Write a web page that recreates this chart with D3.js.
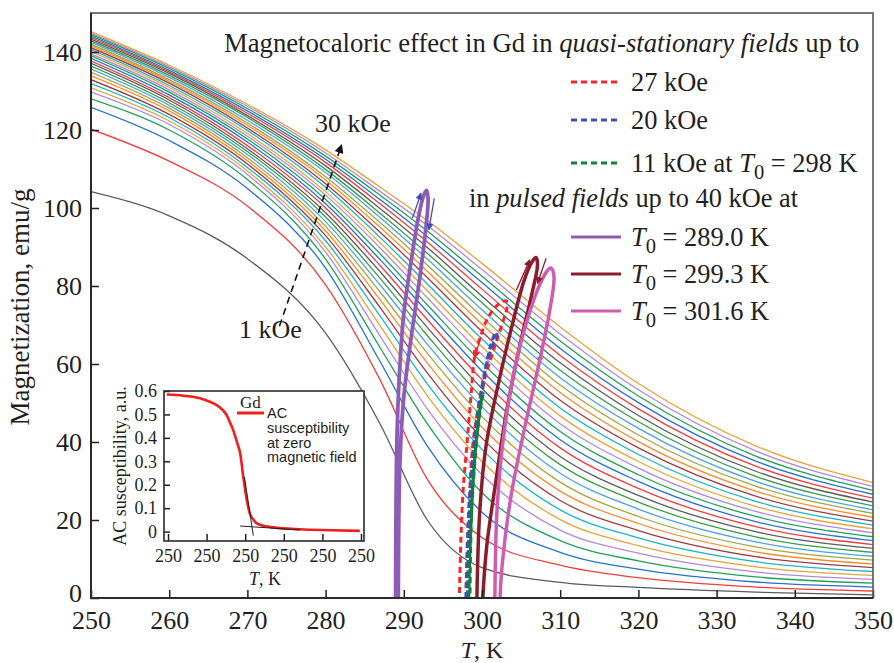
<!DOCTYPE html>
<html>
<head>
<meta charset="utf-8">
<title>Magnetocaloric effect in Gd</title>
<script src="https://cdn.jsdelivr.net/npm/d3@7/dist/d3.min.js"></script>
<style>
  body { margin: 0; background: #fff; }
  svg { display: block; }
  text { font-family: 'Liberation Serif', 'Times New Roman', serif; fill: #231f20; }
</style>
</head>
<body>
<div id="chart"></div>
<script>
/* global d3 */

const TEMPS = [250, 260, 270, 280, 287, 293, 300, 310, 320, 335, 350]
// Field of every M(T) curve, kOe (1 ... 30)
const FIELDS = [1, 2, 3, 4, 5, 6, 7, 8, 9, 10, 11, 12, 13, 14, 15, 16, 17, 18, 19, 20, 21, 22, 23, 24, 25, 26, 27, 28, 29, 30]

// Magnetization, emu/g, one value per field at each temperature
const M250 = [104.2, 120.2, 125.8, 128.0, 129.7, 130.8, 131.9, 132.9, 133.9, 134.8, 135.6, 136.4, 137.1, 137.7, 138.4, 139.0, 139.5, 140.1, 140.6, 141.1, 141.6, 142.0, 142.5, 142.9, 143.3, 143.7, 144.1, 144.5, 144.8, 145.2]
const M260 = [98.0, 112.0, 117.3, 120.0, 121.4, 122.3, 123.2, 124.0, 124.9, 125.6, 126.3, 127.0, 127.7, 128.3, 129.0, 129.7, 130.3, 130.9, 131.4, 132.0, 132.5, 132.9, 133.5, 134.0, 134.5, 134.9, 135.3, 135.8, 136.2, 136.6]
const M270 = [87.0, 100.5, 105.0, 107.3, 108.6, 109.5, 110.4, 111.3, 112.1, 112.9, 113.7, 114.5, 115.2, 116.0, 116.9, 117.7, 118.4, 119.1, 119.9, 120.5, 121.2, 121.8, 122.5, 123.2, 123.7, 124.3, 124.9, 125.5, 126.1, 126.6]
const M280 = [67.9, 80.3, 84.6, 86.9, 88.7, 90.0, 91.6, 92.9, 94.1, 95.3, 96.5, 97.7, 98.8, 100.0, 101.1, 102.2, 103.3, 104.2, 105.3, 106.2, 107.2, 108.0, 109.1, 109.9, 110.8, 111.7, 112.5, 113.3, 114.1, 114.9]
const M287 = [44.5, 55.8, 60.5, 64.1, 67.1, 69.7, 72.2, 74.4, 76.4, 78.4, 80.2, 81.9, 83.6, 85.2, 86.7, 88.2, 89.7, 91.0, 92.4, 93.7, 95.0, 96.2, 97.5, 98.6, 99.8, 101.0, 102.1, 103.2, 104.2, 105.3]
const M293 = [20.0, 30.5, 39.0, 44.7, 48.5, 51.9, 54.9, 57.7, 60.3, 62.8, 65.1, 67.3, 69.4, 71.4, 73.4, 75.2, 77.0, 78.8, 80.5, 82.2, 83.8, 85.4, 86.9, 88.4, 89.9, 91.3, 92.7, 94.1, 95.5, 96.8]
const M300 = [7.8, 15.5, 22.0, 27.0, 31.6, 35.0, 38.1, 41.0, 43.8, 46.5, 49.0, 51.4, 53.7, 56.0, 58.2, 60.3, 62.4, 64.4, 66.4, 68.3, 70.2, 72.1, 73.9, 75.7, 77.4, 79.2, 80.9, 82.5, 84.2, 85.8]
const M310 = [4.0, 8.4, 11.7, 14.7, 17.4, 20.1, 22.6, 25.0, 27.4, 29.7, 32.0, 34.2, 36.3, 38.5, 40.6, 42.7, 44.7, 46.7, 48.7, 50.7, 52.7, 54.6, 56.5, 58.4, 60.3, 62.2, 64.0, 65.9, 67.7, 69.5]
const M320 = [2.7, 5.2, 7.4, 9.5, 11.5, 13.4, 15.4, 17.3, 19.1, 20.9, 22.8, 24.6, 26.3, 28.1, 29.9, 31.6, 33.3, 35.0, 36.8, 38.5, 40.1, 41.8, 43.5, 45.2, 46.8, 48.5, 50.1, 51.8, 53.4, 55.0]
const M335 = [1.5, 2.8, 4.1, 5.4, 6.7, 8.0, 9.3, 10.6, 11.8, 13.1, 14.4, 15.7, 17.0, 18.3, 19.6, 20.9, 22.2, 23.5, 24.8, 26.1, 27.4, 28.7, 29.9, 31.2, 32.5, 33.8, 35.1, 36.4, 37.7, 39.0]
const M350 = [0.8, 1.8, 2.8, 3.8, 4.8, 5.8, 6.8, 7.8, 8.7, 9.7, 10.7, 11.7, 12.7, 13.7, 14.7, 15.7, 16.7, 17.7, 18.7, 19.7, 20.7, 21.7, 22.6, 23.6, 24.6, 25.6, 26.6, 27.6, 28.6, 29.6]

// Adiabatic trajectories M(T) : quasi-stationary fields (dashed)
const Q27_T = [298.2, 298.2, 298.4, 298.8, 299.4, 300.3, 301.6, 302.6, 303.2, 303.1, 302.2, 300.8, 299.8, 299.1, 298.6, 298.1, 297.6, 297.3, 297.1]
const Q27_M = [0, 13, 26, 38.8, 47.4, 55.9, 64.4, 70.4, 74.5, 76.2, 75.5, 72, 67, 62.3, 52, 40, 28, 15, 0]
const Q20_T = [297.95, 298.1, 298.4, 299.0, 299.9, 300.5, 301.2, 301.8, 301.9, 301.5, 300.6, 299.8, 299.1, 298.6, 298.3, 298.15]
const Q20_M = [0, 12, 25, 38, 50.8, 59.3, 65.3, 68.2, 67.2, 65.5, 60, 52, 42, 30, 15, 0]
const Q11_T = [298.3, 298.5, 298.9, 299.4, 299.9, 300.15, 299.9, 299.3, 298.8, 298.55, 298.45]
const Q11_M = [0, 15, 30, 42, 50, 52.5, 50.5, 41, 28, 14, 0]
// ... and pulsed fields up to 40 kOe (solid)
const P289_T = [288.95, 289.1, 289.4, 290.0, 290.9, 291.8, 292.5, 292.9, 293.1, 292.8, 292.0, 290.9, 290.0, 289.5, 289.3]
const P289_M = [0, 38.8, 55.9, 73.0, 85.8, 96.9, 103.0, 104.5, 102.5, 94.4, 81.5, 66.2, 51.6, 34.5, 0]
const P299_T = [299.35, 299.7, 300.5, 302.2, 303.7, 305.4, 306.4, 306.9, 307.1, 306.3, 304.8, 303.1, 301.8, 300.6, 300.1]
const P299_M = [0, 21.7, 38.8, 55.9, 68.7, 81.5, 86.2, 87.3, 85.5, 77.3, 64.4, 47.4, 30.3, 13.2, 0]
const P302_T = [301.65, 301.9, 302.6, 303.9, 305.4, 307.1, 308.2, 308.8, 309.2, 308.6, 307.3, 305.4, 303.7, 302.6, 302.3]
const P302_M = [0, 21.7, 38.8, 55.9, 68.7, 79.0, 83.5, 84.6, 82.5, 73.0, 60.2, 43.1, 26.0, 8.9, 0]

// Inset: AC susceptibility at zero field (x in tick units, all ticks read "250")
const INSET_X = [-0.03, 0.4, 0.83, 1.1, 1.26, 1.4, 1.52, 1.62, 1.69, 1.79, 1.87, 1.95, 2.04, 2.12, 2.22, 2.30, 2.5, 2.73, 3.42, 4.2, 4.97]
const INSET_CHI = [0.585, 0.58, 0.569, 0.553, 0.54, 0.522, 0.497, 0.46, 0.433, 0.38, 0.334, 0.234, 0.135, 0.078, 0.05, 0.035, 0.024, 0.018, 0.01, 0.006, 0.003]
const STEEP_FIT_X = [1.98, 2.21]
const STEEP_FIT_Y = [0.234, -0.017]
const FLAT_FIT_X = [1.87, 3.42]
const FLAT_FIT_Y = [0.024, 0.007]
const INSET_TICKS = [0, 1, 2, 3, 4, 5]
const INSET_TICK_LABELS = ['250', '250', '250', '250', '250', '250']
const INSET_Y_TICKS = [0, 0.1, 0.2, 0.3, 0.4, 0.5, 0.6]

const X_TICKS = [250, 260, 270, 280, 290, 300, 310, 320, 330, 340, 350]
const Y_TICKS = [0, 20, 40, 60, 80, 100, 120, 140]

const FAN_COLORS = ['#5b5b5b', '#f23d3d', '#2771c9', '#20a05a', '#b588d6', '#e3a43c', '#1db3c6', '#9c3c44', '#fb8a2d', '#a5a43f', '#4aa3e6', '#3b9b47']

const WIDTH = 894
const HEIGHT = 663
const PLOT = { left: 91, right: 873, top: 13, bottom: 598 }
const INSET = { left: 164, right: 364, top: 391, bottom: 541 }

const svg = d3.select('#chart').append('svg')
  .attr('width', WIDTH)
  .attr('height', HEIGHT)

const defs = svg.append('defs')
defs.append('clipPath').attr('id', 'plot-clip')
  .append('rect')
  .attr('x', PLOT.left).attr('y', PLOT.top)
  .attr('width', PLOT.right - PLOT.left).attr('height', PLOT.bottom - PLOT.top)

function addMarker (id, color, w, h) {
  defs.append('marker')
    .attr('id', id)
    .attr('viewBox', '0 0 10 10')
    .attr('refX', 9).attr('refY', 5)
    .attr('markerWidth', w).attr('markerHeight', h)
    .attr('markerUnits', 'userSpaceOnUse')
    .attr('orient', 'auto')
    .append('path')
    .attr('d', 'M0,0 L10,5 L0,10 Z')
    .attr('fill', color)
}
addMarker('arr-black', '#111', 12, 9)
addMarker('arr-blue', '#3d50b4', 9, 7)
addMarker('arr-maroon', '#8b1c2c', 9, 7)
addMarker('arr-pink', '#d05cb0', 9, 7)
addMarker('arr-red', '#f5252a', 10, 8)

const x = d3.scaleLinear().domain([250, 350]).range([PLOT.left, PLOT.right])
const y = d3.scaleLinear().domain([0, 150]).range([PLOT.bottom, PLOT.top])

// Fan of 1 ... 30 kOe curves
const COLUMNS = [M250, M260, M270, M280, M287, M293, M300, M310, M320, M335, M350]
const fan = FIELDS.map((h, i) => TEMPS.map((t, j) => [t, COLUMNS[j][i]]))

const smooth = d3.line().x(d => x(d[0])).y(d => y(d[1])).curve(d3.curveMonotoneX)
const loopLine = d3.line().x(d => x(d[0])).y(d => y(d[1])).curve(d3.curveCatmullRom.alpha(0.5))

const plot = svg.append('g').attr('clip-path', 'url(#plot-clip)')

plot.append('g')
  .selectAll('path')
  .data(fan)
  .join('path')
  .attr('d', smooth)
  .attr('fill', 'none')
  .attr('stroke', (d, i) => FAN_COLORS[i % FAN_COLORS.length])
  .attr('stroke-width', 1.3)

const zip = (ts, ms) => ts.map((t, i) => [t, ms[i]])

const LOOPS = [
  { pts: zip(Q27_T, Q27_M), color: '#f5252a', dash: '6,4', w: 3 },
  { pts: zip(Q20_T, Q20_M), color: '#4152b4', dash: '6,4', w: 3.2 },
  { pts: zip(Q11_T, Q11_M), color: '#10803c', dash: '6,4', w: 3.2 },
  { pts: zip(P289_T, P289_M), color: '#8e5cb6', dash: null, w: 3.8 },
  { pts: zip(P299_T, P299_M), color: '#8b1c2c', dash: null, w: 3.5 },
  { pts: zip(P302_T, P302_M), color: '#d05cb0', dash: null, w: 3.5 }
]

plot.append('g')
  .selectAll('path')
  .data(LOOPS)
  .join('path')
  .attr('d', d => loopLine(d.pts))
  .attr('fill', 'none')
  .attr('stroke', d => d.color)
  .attr('stroke-width', d => d.w)
  .attr('stroke-dasharray', d => d.dash)

// small direction arrows along the trajectories
const ARROWS = [
  { from: [291.1, 97.4], to: [292.2, 103.8], color: '#3d50b4', m: 'arr-blue' },
  { from: [293.9, 102.5], to: [293.2, 94.4], color: '#3d50b4', m: 'arr-blue' },
  { from: [304.4, 79.0], to: [306.1, 86.7], color: '#8b1c2c', m: 'arr-maroon' },
  { from: [308.2, 87.1], to: [307.1, 80.7], color: '#8b1c2c', m: 'arr-maroon' },
  { from: [308.2, 70.4], to: [307.3, 60.2], color: '#d05cb0', m: 'arr-pink' },
  { from: [299.9, 67.0], to: [299.0, 61.5], color: '#f5252a', m: 'arr-red' }
]
svg.append('g')
  .selectAll('line')
  .data(ARROWS)
  .join('line')
  .attr('x1', d => x(d.from[0])).attr('y1', d => y(d.from[1]))
  .attr('x2', d => x(d.to[0])).attr('y2', d => y(d.to[1]))
  .attr('stroke', d => d.color)
  .attr('stroke-width', 1.3)
  .attr('marker-end', d => `url(#${d.m})`)

// dashed arrow 1 kOe -> 30 kOe
const FIELD_ARROW = { from: [274.1, 69.7], to: [282.05, 116.2] }
svg.append('line')
  .attr('x1', x(FIELD_ARROW.from[0])).attr('y1', y(FIELD_ARROW.from[1]))
  .attr('x2', x(FIELD_ARROW.to[0])).attr('y2', y(FIELD_ARROW.to[1]))
  .attr('stroke', '#111')
  .attr('stroke-width', 1.6)
  .attr('stroke-dasharray', '7,5')
  .attr('marker-end', 'url(#arr-black)')

svg.append('text').attr('x', 315).attr('y', 132).attr('font-size', 26).text('30 kOe')
svg.append('text').attr('x', 239).attr('y', 338).attr('font-size', 26).text('1 kOe')

// axes
const xAxis = d3.axisBottom(x).tickValues(X_TICKS).tickSizeInner(-8).tickSizeOuter(0).tickPadding(13)
const yAxis = d3.axisLeft(y).tickValues(Y_TICKS).tickSizeInner(-8).tickSizeOuter(0).tickPadding(9)

function styleAxis (g, size) {
  g.attr('font-family', null).attr('font-size', size).attr('color', '#231f20')
  g.select('.domain').remove()
  g.selectAll('.tick line').attr('stroke-width', 1.5)
}

svg.append('g')
  .attr('transform', `translate(0,${PLOT.bottom})`)
  .call(xAxis)
  .call(g => styleAxis(g, 26))

svg.append('g')
  .attr('transform', `translate(${PLOT.left},0)`)
  .call(yAxis)
  .call(g => styleAxis(g, 26))
  .call(g => g.selectAll('.tick text').filter(d => d === 0).attr('dy', '0.12em'))

// frame: grey box, darker left and bottom axes
svg.append('rect')
  .attr('x', PLOT.left).attr('y', PLOT.top)
  .attr('width', PLOT.right - PLOT.left).attr('height', PLOT.bottom - PLOT.top)
  .attr('fill', 'none')
  .attr('stroke', '#5e5e5e')
  .attr('stroke-width', 1.7)
svg.append('path')
  .attr('d', `M${PLOT.left},${PLOT.top}V${PLOT.bottom}H${PLOT.right}`)
  .attr('fill', 'none')
  .attr('stroke', '#2a2a2a')
  .attr('stroke-width', 2)

svg.append('text')
  .attr('transform', 'translate(29,307) rotate(-90)')
  .attr('text-anchor', 'middle')
  .attr('font-size', 27)
  .text('Magnetization, emu/g')

function richText (g, xPos, yPos, pieces, size) {
  const t = g.append('text')
    .attr('x', xPos).attr('y', yPos)
    .attr('font-size', size)
    .style('white-space', 'pre')
  let shift = 0
  pieces.forEach(([str, kind]) => {
    const sp = t.append('tspan').text(str)
    if (kind === 'i') sp.attr('font-style', 'italic')
    if (kind === 'sub') {
      shift = Math.round(size * 0.28)
      sp.attr('font-size', size * 0.78).attr('dy', shift)
    } else if (shift) {
      sp.attr('dy', -shift)
      shift = 0
    }
  })
  return t
}

richText(svg, 482, 658, [['T', 'i'], [', K', '']], 24).attr('text-anchor', 'middle')

// legend
const legend = svg.append('g')
richText(legend, 224, 52, [['Magnetocaloric effect in Gd in ', ''], ['quasi-stationary fields', 'i'], [' up to', '']], 26.7)
richText(legend, 469, 207, [['in ', ''], ['pulsed fields', 'i'], [' up to 40 kOe at', '']], 26.4)

const LEGEND_ITEMS = [
  { y: 82, color: '#f5252a', dash: '6,4', pieces: [['27 kOe', '']] },
  { y: 120, color: '#4152b4', dash: '6,4', pieces: [['20 kOe', '']] },
  { y: 163, color: '#10803c', dash: '6,4', pieces: [['11 kOe at ', ''], ['T', 'i'], ['0', 'sub'], [' = 298 K', '']] },
  { y: 237, color: '#8e5cb6', dash: null, pieces: [['T', 'i'], ['0', 'sub'], [' = 289.0 K', '']] },
  { y: 274, color: '#8b1c2c', dash: null, pieces: [['T', 'i'], ['0', 'sub'], [' = 299.3 K', '']] },
  { y: 311, color: '#d05cb0', dash: null, pieces: [['T', 'i'], ['0', 'sub'], [' = 301.6 K', '']] }
]
LEGEND_ITEMS.forEach(item => {
  legend.append('line')
    .attr('x1', 571).attr('x2', 621)
    .attr('y1', item.y).attr('y2', item.y)
    .attr('stroke', item.color)
    .attr('stroke-width', 3)
    .attr('stroke-dasharray', item.dash)
  richText(legend, 631, item.y + 9, item.pieces, 26.4)
})

// inset
const ix = d3.scaleLinear().domain([-0.104, 5.078]).range([INSET.left, INSET.right])
const iy = d3.scaleLinear().domain([-0.04, 0.6]).range([INSET.bottom, INSET.top])
const inset = svg.append('g')

inset.append('rect')
  .attr('x', INSET.left).attr('y', INSET.top)
  .attr('width', INSET.right - INSET.left).attr('height', INSET.bottom - INSET.top)
  .attr('fill', '#fff')

const insetLine = d3.line().x(d => ix(d[0])).y(d => iy(d[1]))
inset.append('path')
  .attr('d', insetLine.curve(d3.curveMonotoneX)(zip(INSET_X, INSET_CHI)))
  .attr('fill', 'none')
  .attr('stroke', '#f21d1d')
  .attr('stroke-width', 2.6)

const fitLine = d3.line().x(d => ix(d[0])).y(d => iy(d[1]))
inset.append('path').attr('d', fitLine(zip(STEEP_FIT_X, STEEP_FIT_Y)))
  .attr('stroke', '#222').attr('stroke-width', 1)
inset.append('path').attr('d', fitLine(zip(FLAT_FIT_X, FLAT_FIT_Y)))
  .attr('stroke', '#222').attr('stroke-width', 1)

inset.append('g')
  .attr('transform', `translate(0,${INSET.bottom})`)
  .call(d3.axisBottom(ix).tickValues(INSET_TICKS).tickFormat((d, i) => INSET_TICK_LABELS[i])
    .tickSizeInner(-7).tickSizeOuter(0).tickPadding(8))
  .call(g => styleAxis(g, 18))

inset.append('g')
  .attr('transform', `translate(${INSET.left},0)`)
  .call(d3.axisLeft(iy).tickValues(INSET_Y_TICKS).tickFormat(d3.format('~g'))
    .tickSizeInner(-6).tickSizeOuter(0).tickPadding(7))
  .call(g => styleAxis(g, 18))

inset.append('rect')
  .attr('x', INSET.left).attr('y', INSET.top)
  .attr('width', INSET.right - INSET.left).attr('height', INSET.bottom - INSET.top)
  .attr('fill', 'none')
  .attr('stroke', '#2a2a2a')
  .attr('stroke-width', 1.6)

inset.append('text')
  .attr('transform', 'translate(126,466) rotate(-90)')
  .attr('text-anchor', 'middle')
  .attr('font-size', 18)
  .text('AC susceptibility, a.u.')

richText(inset, 265, 585, [['T', 'i'], [', K', '']], 18).attr('text-anchor', 'middle')

inset.append('text').attr('x', 240).attr('y', 408).attr('font-size', 17).text('Gd')
inset.append('line')
  .attr('x1', 237).attr('x2', 264).attr('y1', 413).attr('y2', 413)
  .attr('stroke', '#f21d1d').attr('stroke-width', 3)

const INSET_NOTE = ['AC', 'susceptibility', 'at zero', 'magnetic field']
inset.append('g')
  .selectAll('text')
  .data(INSET_NOTE)
  .join('text')
  .attr('x', 267)
  .attr('y', (d, i) => 418 + i * 14.8)
  .attr('font-size', 14.5)
  .style('font-family', "'Liberation Sans', Arial, sans-serif")
  .text(d => d)
</script>
</body>
</html>
